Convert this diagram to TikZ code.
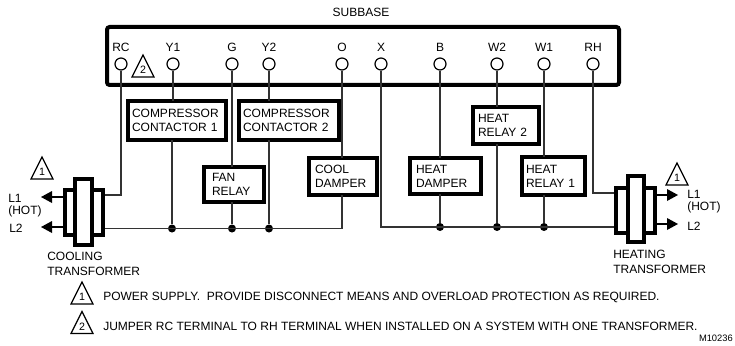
\documentclass[tikz,border=0pt]{standalone}
\usepackage{fontspec}
\setmainfont{Liberation Sans}
\tikzset{
  x=0.75pt,y=-0.75pt,
  thick box/.style={draw=black,line width=3pt,fill=white,align=left,inner ysep=0pt,outer sep=0pt,anchor=north west,font=\fontsize{9}{10.5}\selectfont},
  wire/.style={draw=black!80,line width=1.1pt},
  lab/.style={font=\fontsize{9}{10.5}\selectfont,inner sep=0pt,align=left},
  term/.style={circle,draw=black,line width=0.9pt,fill=white,minimum size=9pt,inner sep=0pt},
  dot/.style={circle,fill=black,minimum size=6pt,inner sep=0pt},
  tri/.style={draw=black,line width=0.9pt,fill=white,line join=miter},
  tip/.style={fill=black},
}
% name, x, y, w, h, text inset (px), text
\newcommand{\boxat}[7]{\node[thick box,inner xsep={(#6-2)*0.75pt},text width={(#4-2-#6)*0.75pt},minimum height={(#5-4)*0.75pt}] (#1) at (#2+2,#3+2) {#7};}
\newcommand{\tritxt}[3]{\draw[tri] (#1,#2-11) -- (#1+11,#2+11) -- (#1-11,#2+11) -- cycle; \node[lab,font=\fontsize{8}{9}\selectfont] at (#1,#2+4) {#3};}
\begin{document}
\begin{tikzpicture}
\useasboundingbox (0,0) rectangle (735,346);
\node[lab] (subbase) at (361,12) {SUBBASE};
\draw[draw=black,line width=3pt,rounded corners=2pt] (107,27) rectangle (619,85);
% terminals
\foreach \n/\x in {RC/121,Y1/173,G/232,Y2/269,O/342,X/381,B/440,W2/497,W1/544,RH/593}{
  \node[lab] (l\n) at (\x,47) {\n};
  \node[term] (t\n) at (\x,64) {};
}
\tritxt{143}{66}{2}
% boxes
\boxat{cc1}{126}{99}{98}{43}{6}{COMPRESSOR\\CONTACTOR 1}
\boxat{cc2}{237}{99}{100}{43}{6}{COMPRESSOR\\CONTACTOR 2}
\boxat{fan}{202}{165}{56}{39}{10}{FAN\\RELAY}
\boxat{cool}{307}{156}{66}{41}{8}{COOL\\DAMPER}
\boxat{hd}{408}{156}{69}{40}{8}{HEAT\\DAMPER}
\boxat{hr2}{471}{105}{65}{41}{7}{HEAT\\RELAY 2}
\boxat{hr1}{520}{155}{63}{42}{6}{HEAT\\RELAY 1}
% connector ends
\coordinate (lt) at (105,195);
\coordinate (lb) at (105,228.5);
\coordinate (rt) at (615,193);
\coordinate (rb) at (615,227);
\node[dot] (j1) at (172,228.5) {};
\node[dot] (j2) at (232,228.5) {};
\node[dot] (j3) at (269,228.5) {};
\node[dot] (j4) at (440,227) {};
\node[dot] (j5) at (497,227) {};
\node[dot] (j6) at (544,227) {};
\coordinate (cr) at (342,228.5);
\coordinate (xb) at (381,227);
\draw[wire] (tRC) -- (tRC |- lt) -- (lt);
\draw[wire] (tY1) -- (cc1.north -| tY1);
\draw[wire] (cc1.south -| j1) -- (j1);
\draw[wire] (tG) -- (fan.north -| tG);
\draw[wire] (fan.south -| j2) -- (j2);
\draw[wire] (tY2) -- (cc2.north -| tY2);
\draw[wire] (cc2.south -| j3) -- (j3);
\draw[wire] (tO) -- (cool.north -| tO);
\draw[wire] (cool.south -| cr) -- (cr);
\draw[wire] (lb) -- (cr);
\draw[wire] (tX) -- (xb) -- (rb);
\draw[wire] (tB) -- (hd.north -| tB);
\draw[wire] (hd.south -| j4) -- (j4);
\draw[wire] (tW2) -- (hr2.north -| tW2);
\draw[wire] (hr2.south -| j5) -- (j5);
\draw[wire] (tW1) -- (hr1.north -| tW1);
\draw[wire] (hr1.south -| j6) -- (j6);
\draw[wire] (tRH) -- (tRH |- rt) -- (rt);
% left transformer
\draw[black,line width=3pt,fill=white] (65,190) rectangle (103,235);
\draw[black,line width=3pt,fill=white] (75,179) rectangle (92,245);
\draw[black,line width=2pt] (63,197) -- (52,197);
\draw[black,line width=2pt] (63,227) -- (52,227);
\fill[tip] (41,197) -- (52,191) -- (52,203) -- cycle;
\fill[tip] (41,227) -- (52,221) -- (52,233) -- cycle;
\node[lab,anchor=north west] (l1a) at (8,193.5) {L1\\[-1.2pt](HOT)};
\node[lab,anchor=west] (l2a) at (9,228) {L2};
\tritxt{42}{168}{1}
\node[lab,anchor=north west] (ct) at (47,252) {COOLING\\[0.5pt]TRANSFORMER};
% right transformer
\draw[black,line width=3pt,fill=white] (616,188) rectangle (655,233);
\draw[black,line width=3pt,fill=white] (628,176) rectangle (644,242);
\draw[black,line width=2pt] (657,195) -- (667,195);
\draw[black,line width=2pt] (657,224) -- (667,224);
\fill[tip] (678,195) -- (667,189) -- (667,201) -- cycle;
\fill[tip] (678,224) -- (667,218) -- (667,230) -- cycle;
\node[lab,anchor=north west] (l1b) at (687,190) {L1\\[-1.2pt](HOT)};
\node[lab,anchor=west] (l2b) at (687,226) {L2};
\tritxt{677}{174}{1}
\node[lab,anchor=north west] (ht) at (613,250) {HEATING\\[0.5pt]TRANSFORMER};
% notes
\tritxt{82}{293}{1}
\tritxt{82}{322.5}{2}
\node[lab,anchor=west] (n1) at (103,297) {POWER SUPPLY.\ \ PROVIDE DISCONNECT MEANS AND OVERLOAD PROTECTION AS REQUIRED.};
\node[lab,anchor=west] (n2) at (103,326) {JUMPER RC TERMINAL TO RH TERMINAL WHEN INSTALLED ON A SYSTEM WITH ONE TRANSFORMER.};
\node[lab,anchor=east,font=\fontsize{7}{8}\selectfont] (m) at (733,338) {M10236};
\end{tikzpicture}
\end{document}
